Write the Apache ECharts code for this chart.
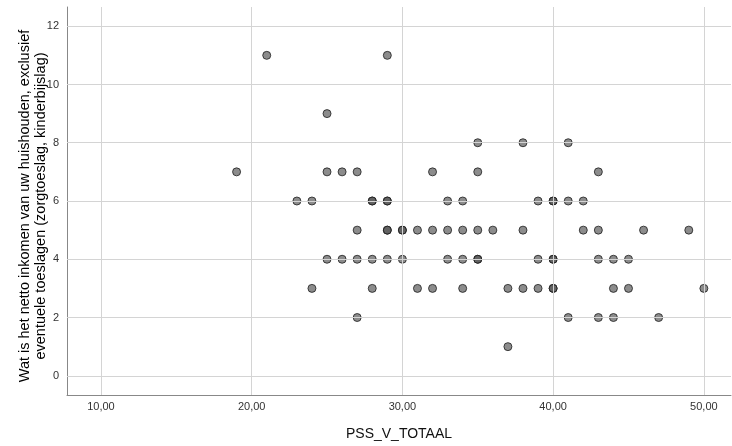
<!DOCTYPE html>
<html>
<head>
<meta charset="utf-8">
<script src="https://cdn.jsdelivr.net/npm/echarts@6/dist/echarts.min.js"></script>
<style>html,body{margin:0;padding:0;background:#fff}#c{width:732px;height:446px}</style>
</head>
<body>
<div id="c"></div>
<script>
// PSS_V_TOTAAL (x) and income category (y), one entry per case
var pssValues = [21,29, 25, 35,38,41, 19,25,26,27,32,35,43,
  23,24,28,28,29,29,33,34,39,40,40,41,42,
  27,29,29,30,30,31,32,33,34,35,36,38,42,43,46,49,
  25,26,27,28,29,30,33,34,35,35,39,40,40,43,44,45,
  24,28,31,32,34,37,38,39,40,40,44,45,50,
  27,41,43,44,47, 37];
var incomeValues = [11,11, 9, 8,8,8, 7,7,7,7,7,7,7,
  6,6,6,6,6,6,6,6,6,6,6,6,6,
  5,5,5,5,5,5,5,5,5,5,5,5,5,5,5,5,
  4,4,4,4,4,4,4,4,4,4,4,4,4,4,4,4,
  3,3,3,3,3,3,3,3,3,3,3,3,3,
  2,2,2,2,2, 1];
var xTicks = [10,20,30,40,50];
var yTicks = [0,2,4,6,8,10,12];
var xTitle = 'PSS_V_TOTAAL';
var yTitle = 'Wat is het netto inkomen van uw huishouden, exclusief\neventuele toeslagen (zorgtoeslag, kinderbijslag)';

var points = pssValues.map(function(v,i){ return [v, incomeValues[i]]; });
var gridMarks = xTicks.map(function(v){ return {xAxis: v}; })
  .concat(yTicks.map(function(v){ return {yAxis: v}; }));

var chart = echarts.init(document.getElementById('c'), null, {renderer:'canvas'});
chart.setOption({
  animation: false,
  backgroundColor: '#ffffff',
  textStyle: {fontFamily: 'Liberation Sans, Arial, sans-serif'},
  grid: {left: 67, right: 1, top: 7, bottom: 50, containLabel: false},
  xAxis: {
    type: 'value', min: 7.75, max: 51.8,
    name: xTitle, nameLocation: 'middle', nameGap: 32, nameMoveOverlap: false,
    nameTextStyle: {fontSize: 14, color: '#111', fontFamily: 'Liberation Sans'},
    axisLine: {show: true, onZero: false, lineStyle: {color: '#888', width: 1}},
    axisTick: {show: false},
    splitLine: {show: false},
    axisLabel: {
      customValues: xTicks, fontSize: 11, color: '#333', margin: 6,
      fontFamily: 'Liberation Sans',
      formatter: function(v){ return v.toFixed(2).replace('.', ','); }
    }
  },
  yAxis: {
    type: 'value', min: -0.66, max: 12.66,
    name: yTitle, nameLocation: 'middle', nameGap: 18, nameRotate: 90, nameMoveOverlap: false,
    nameTextStyle: {fontSize: 14.5, color: '#000', lineHeight: 16, fontFamily: 'Liberation Sans', align: 'center', padding: [0, 10, 0, 0]},
    axisLine: {show: true, onZero: false, lineStyle: {color: '#888', width: 1}},
    axisTick: {show: false},
    splitLine: {show: false},
    axisLabel: {
      customValues: yTicks, fontSize: 11, color: '#333', margin: 8,
      fontFamily: 'Liberation Sans'
    }
  },
  series: [
    {
      type: 'line', data: [], silent: true, z: 1,
      markLine: {
        silent: true, symbol: ['none','none'], animation: false,
        label: {show: false},
        lineStyle: {color: '#d4d4d4', width: 1, type: 'solid'},
        emphasis: {disabled: true},
        data: gridMarks
      }
    },
    {
      type: 'scatter', z: 3,
      symbol: 'circle', symbolSize: 8,
      itemStyle: {color: 'rgba(75,75,75,0.8)', borderColor: '#1e1e1e', borderWidth: 1},
      data: points
    }
  ]
});
</script>
</body>
</html>
